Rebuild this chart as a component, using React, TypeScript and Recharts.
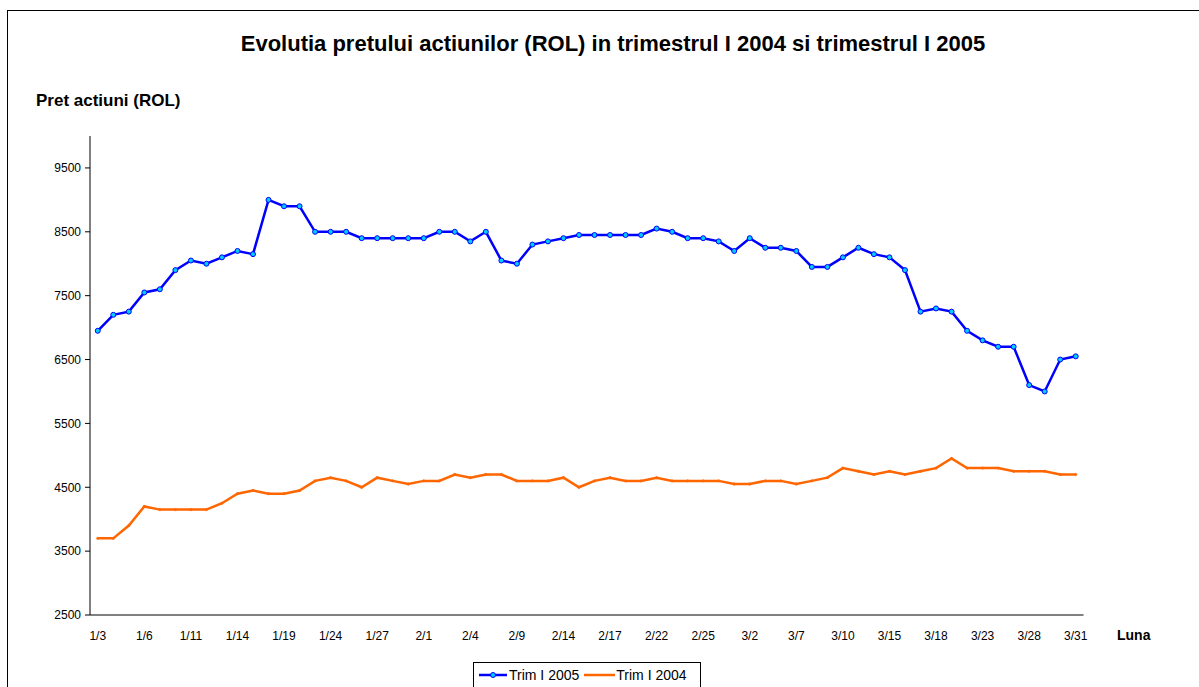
import React from "react"
import { LineChart, Line, XAxis, YAxis } from "recharts"

// trading days, Q1 (1/3 - 3/31)
const dates = [
  "1/3", "1/4", "1/5", "1/6", "1/7", "1/10", "1/11", "1/12", "1/13", "1/14", "1/17",
  "1/18", "1/19", "1/20", "1/21", "1/24", "1/25", "1/26", "1/27", "1/28", "1/31",
  "2/1", "2/2", "2/3", "2/4", "2/7", "2/8", "2/9", "2/10", "2/11", "2/14",
  "2/15", "2/16", "2/17", "2/18", "2/21", "2/22", "2/23", "2/24", "2/25", "2/28",
  "3/1", "3/2", "3/3", "3/4", "3/7", "3/8", "3/9", "3/10", "3/11", "3/14", "3/15",
  "3/16", "3/17", "3/18", "3/21", "3/22", "3/23", "3/24", "3/25", "3/28", "3/29", "3/30", "3/31",
]

const trim2005 = [
  6950, 7200, 7250, 7550, 7600, 7900, 8050, 8000, 8100, 8200,
  8150, 9000, 8900, 8900, 8500, 8500, 8500, 8400, 8400, 8400,
  8400, 8400, 8500, 8500, 8350, 8500, 8050, 8000, 8300, 8350,
  8400, 8450, 8450, 8450, 8450, 8450, 8550, 8500, 8400, 8400,
  8350, 8200, 8400, 8250, 8250, 8200, 7950, 7950, 8100, 8250,
  8150, 8100, 7900, 7250, 7300, 7250, 6950, 6800, 6700, 6700,
  6100, 6000, 6500, 6550,
]

const trim2004 = [
  3700, 3700, 3900, 4200, 4150, 4150, 4150, 4150, 4250, 4400,
  4450, 4400, 4400, 4450, 4600, 4650, 4600, 4500, 4650, 4600,
  4550, 4600, 4600, 4700, 4650, 4700, 4700, 4600, 4600, 4600,
  4650, 4500, 4600, 4650, 4600, 4600, 4650, 4600, 4600, 4600,
  4600, 4550, 4550, 4600, 4600, 4550, 4600, 4650, 4800, 4750,
  4700, 4750, 4700, 4750, 4800, 4950, 4800, 4800, 4800, 4750,
  4750, 4750, 4700, 4700,
]

const yTicks = [2500, 3500, 4500, 5500, 6500, 7500, 8500, 9500]
const labelEvery = 3

const BLUE = "#0000ff"
const ORANGE = "#ff6600"
const FONT = "'Liberation Sans', Arial, sans-serif"

const data = dates.map((d, i) => ({ idx: i, date: d, t2005: trim2005[i], t2004: trim2004[i] }))
const labelTicks = dates.map((_, i) => i).filter((i) => i % labelEvery === 0)
const markTicks = [...labelTicks.map((i) => i - 0.5), dates.length - 0.5]
const xDomain = [-0.5, dates.length - 0.5]

export default function App() {
  return (
    <div style={{ position: "absolute", left: 0, top: 0, width: 1199, height: 687, overflow: "hidden", background: "#fff", fontFamily: FONT }}>
      <div style={{ position: "absolute", left: 7, top: 10, width: 1300, height: 800, border: "1px solid #000" }} />
      <div style={{ position: "absolute", left: 0, width: 1226, top: 31, textAlign: "center", fontSize: 22, fontWeight: "bold" }}>
        Evolutia pretului actiunilor (ROL) in trimestrul I 2004 si trimestrul I 2005
      </div>
      <div style={{ position: "absolute", left: 36, top: 91, fontSize: 17, fontWeight: "bold" }}>Pret actiuni (ROL)</div>
      <div style={{ position: "absolute", left: 1117, top: 627, fontSize: 14, fontWeight: "bold" }}>Luna</div>

      <div style={{ position: "absolute", left: 0, top: 0 }}>
        <LineChart width={1199} height={687} data={data} margin={{ top: 136, right: 115.5, bottom: 36, left: 30 }}>
          {/* tick marks between categories, every 3 days */}
          <XAxis
            xAxisId="a_marks"
            type="number"
            dataKey="idx"
            domain={xDomain}
            ticks={markTicks}
            allowDataOverflow
            tick={false}
            tickSize={5}
            height={6}
            stroke="#808080"
            strokeWidth={2}
            tickLine={{ stroke: "#555", strokeWidth: 1 }}
          />
          {/* date labels */}
          <XAxis
            xAxisId="b_labels"
            type="number"
            dataKey="idx"
            domain={xDomain}
            ticks={labelTicks}
            allowDataOverflow
            interval={0}
            axisLine={false}
            tickLine={false}
            tickSize={0}
            tickMargin={10}
            height={30}
            tickFormatter={(v: number) => dates[v] ?? ""}
            tick={{ fill: "#000", fontSize: 12, fontFamily: FONT }}
          />
          <YAxis
            domain={[2500, 10000]}
            ticks={yTicks}
            interval={0}
            width={60}
            tickSize={5}
            tickMargin={4}
            stroke="#000"
            tick={{ fill: "#000", fontSize: 12, fontFamily: FONT }}
          />
          <Line
            xAxisId="a_marks"
            type="linear"
            dataKey="t2005"
            stroke={BLUE}
            strokeWidth={2.5}
            dot={{ r: 2.5, fill: "#00ccff", stroke: BLUE, strokeWidth: 1 }}
            isAnimationActive={false}
          />
          <Line
            xAxisId="a_marks"
            type="linear"
            dataKey="t2004"
            stroke={ORANGE}
            strokeWidth={2.5}
            dot={{ r: 1.2, fill: ORANGE, stroke: ORANGE, strokeWidth: 0.5 }}
            isAnimationActive={false}
          />
        </LineChart>
      </div>

      <div style={{ position: "absolute", left: 473, top: 662, width: 226, height: 40, border: "1px solid #000", background: "#fff" }}>
        <div style={{ display: "flex", alignItems: "center", height: 24, paddingLeft: 5, fontSize: 14 }}>
          <svg width={30} height={10}>
            <line x1={0} y1={5} x2={28} y2={5} stroke={BLUE} strokeWidth={2.5} />
            <circle cx={14} cy={5} r={2.5} fill="#00ccff" stroke={BLUE} strokeWidth={1} />
          </svg>
          <span style={{ marginRight: 5 }}>Trim I 2005</span>
          <svg width={32} height={10}>
            <line x1={0} y1={5} x2={31} y2={5} stroke={ORANGE} strokeWidth={2.5} />
          </svg>
          <span>Trim I 2004</span>
        </div>
      </div>
    </div>
  )
}
